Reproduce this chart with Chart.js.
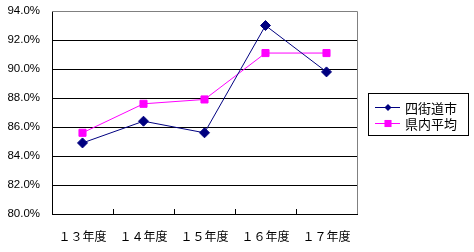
<!DOCTYPE html>
<html>
<head>
<meta charset="utf-8">
<script src="https://cdn.jsdelivr.net/npm/chart.js@4"></script>
<style>
  html, body { margin: 0; padding: 0; background: #fff; }
  #wrap { width: 474px; height: 252px; position: relative; }
</style>
</head>
<body>
<div id="wrap"><canvas id="rateChart"></canvas></div>
<script>
// ---- data ----
const categories = ['１３年度', '１４年度', '１５年度', '１６年度', '１７年度'];
const cityName = '四街道市';
const cityValues = [84.9, 86.4, 85.6, 93.0, 89.8];
const prefName = '県内平均';
const prefValues = [85.6, 87.6, 87.9, 91.1, 91.1];
const yMin = 80, yMax = 94, yStep = 2;

const NAVY = '#000080';
const MAGENTA = '#FF00FF';
const JP_FONT = '"Noto Sans CJK JP", sans-serif';

// draws a legend marker (same shapes as the series points)
function drawMarker(ctx, style, x, y, r, color) {
  ctx.fillStyle = color;
  ctx.beginPath();
  const s = Math.SQRT1_2 * r;
  if (style === 'rect') {
    ctx.rect(x - s, y - s, 2 * s, 2 * s);
  } else {
    ctx.moveTo(x - s, y); ctx.lineTo(x, y - s); ctx.lineTo(x + s, y); ctx.lineTo(x, y + s);
    ctx.closePath();
  }
  ctx.fill();
}

// frame, inside tick marks and the boxed legend
const excelFrame = {
  id: 'excelFrame',
  afterDraw(chart) {
    const { ctx, chartArea: a, scales } = chart;
    ctx.save();
    // gray top/right border
    ctx.strokeStyle = '#808080';
    ctx.lineWidth = 1;
    ctx.beginPath();
    ctx.moveTo(a.left, a.top + 0.5); ctx.lineTo(a.right + 0.5, a.top + 0.5);
    ctx.lineTo(a.right + 0.5, a.bottom);
    ctx.stroke();
    // x tick marks between categories, pointing inward
    ctx.strokeStyle = '#000';
    ctx.beginPath();
    for (let i = 1; i < categories.length; i++) {
      const x = Math.round((scales.x.getPixelForValue(i - 1) + scales.x.getPixelForValue(i)) / 2) + 0.5;
      ctx.moveTo(x, a.bottom); ctx.lineTo(x, a.bottom - 5);
    }
    ctx.stroke();

    // legend
    const lx = 368, ly = 93, lw = 100, lh = 42;
    ctx.strokeStyle = '#000';
    ctx.strokeRect(lx + 0.5, ly + 0.5, lw, lh);
    const items = chart.data.datasets;
    ctx.font = '13px ' + JP_FONT;
    ctx.textBaseline = 'middle';
    items.forEach((ds, i) => {
      const y = ly + 14 + i * 16;
      ctx.strokeStyle = ds.borderColor;
      ctx.beginPath();
      ctx.moveTo(lx + 7, y + 0.5); ctx.lineTo(lx + 32, y + 0.5);
      ctx.stroke();
      drawMarker(ctx, ds.pointStyle, lx + 20, y + 0.5, ds.pointRadius, ds.borderColor);
      ctx.fillStyle = '#000';
      ctx.fillText(ds.label, lx + 37, y + 1);
    });
    ctx.restore();
  }
};

new Chart(document.getElementById('rateChart'), {
  type: 'line',
  data: {
    labels: categories,
    datasets: [
      { label: cityName, data: cityValues, borderColor: NAVY, backgroundColor: NAVY,
        borderWidth: 1, pointStyle: 'rectRot', pointRadius: 5, tension: 0 },
      { label: prefName, data: prefValues, borderColor: MAGENTA, backgroundColor: MAGENTA,
        borderWidth: 1, pointStyle: 'rect', pointRadius: 5, tension: 0 }
    ]
  },
  options: {
    responsive: true,
    maintainAspectRatio: false,
    animation: false,
    layout: { padding: { top: 11, right: 117, left: 0, bottom: 0 } },
    plugins: { legend: { display: false }, tooltip: { enabled: false } },
    scales: {
      x: {
        offset: true,
        grid: { display: false, drawTicks: false },
        border: { color: '#000' },
        ticks: { color: '#000', font: { family: JP_FONT, size: 12 }, padding: 15, maxRotation: 0 },
        afterFit(s) { s.height = 38; s.paddingLeft = 0; s.paddingRight = 0; }
      },
      y: {
        min: yMin, max: yMax,
        grid: { color: ctx => (ctx.tick && ctx.tick.value === yMax ? 'rgba(0,0,0,0)' : '#000'), drawTicks: false },
        border: { color: '#000' },
        ticks: {
          stepSize: yStep, color: '#000', padding: 12,
          font: { family: '"Liberation Sans", Arial, sans-serif', size: 11.5 },
          callback: v => v.toFixed(1) + '%'
        },
        afterFit(s) { s.width = 52; s.paddingTop = 0; s.paddingBottom = 0; }
      }
    }
  },
  plugins: [excelFrame]
});
</script>
</body>
</html>
